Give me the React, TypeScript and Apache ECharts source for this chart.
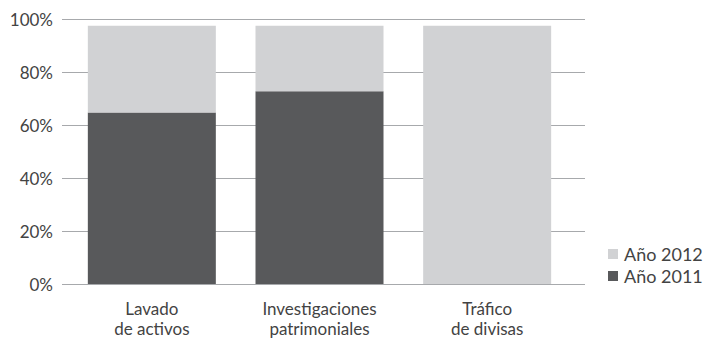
import React, { useEffect, useRef } from "react";
import * as echarts from "echarts";

// Categories and stacked shares (percent) per year
const categories = ["Lavado\nde activos", "Investigaciones\npatrimoniales", "Tráfico\nde divisas"];
const year2011 = [64.7, 72.7, 0];
const year2012 = [32.8, 24.8, 97.5];
const seriesNames = ["Año 2012", "Año 2011"];

const FONT = "Lato, 'Noto Sans', sans-serif";
const TEXT = "#434343";

export default function App() {
  const ref = useRef<HTMLDivElement>(null);

  useEffect(() => {
    document.body.style.margin = "0";
    if (!ref.current) return;
    const chart = echarts.init(ref.current, undefined, { renderer: "svg" });
    chart.setOption({
      animation: false,
      textStyle: { fontFamily: FONT },
      legend: {
        data: seriesNames,
        orient: "vertical",
        left: 603,
        top: 240,
        itemWidth: 10,
        itemHeight: 10,
        itemGap: 4,
        icon: "rect",
        textStyle: {
          fontFamily: FONT,
          fontSize: 18,
          lineHeight: 18,
          color: TEXT,
          padding: [0, 0, 0, 1],
        },
      },
      grid: [
        { left: 62, right: 120, top: 19, bottom: 55 },
        { left: 68, right: 134, top: 19, bottom: 55 },
      ],
      xAxis: [
        { type: "category", gridIndex: 0, show: false, data: [] },
        {
          type: "category",
          gridIndex: 1,
          data: categories,
          axisLine: { show: false },
          axisTick: { show: false },
          axisLabel: {
            margin: 14,
            fontFamily: FONT,
            fontSize: 17,
            color: TEXT,
            lineHeight: 20,
          },
        },
      ],
      yAxis: [
        {
          type: "value",
          gridIndex: 0,
          min: 0,
          max: 100,
          interval: 20,
          axisLine: { show: false },
          axisTick: { show: false },
          axisLabel: {
            formatter: "{value}%",
            margin: 9,
            fontFamily: FONT,
            fontSize: 17,
            color: TEXT,
          },
          splitLine: { lineStyle: { color: "#a7a9ac", width: 1 } },
        },
        { type: "value", gridIndex: 1, min: 0, max: 100, show: false },
      ],
      series: [
        {
          name: "Año 2011",
          type: "bar",
          stack: "total",
          xAxisIndex: 1,
          yAxisIndex: 1,
          barWidth: 128,
          itemStyle: { color: "#58595b" },
          data: year2011,
        },
        {
          name: "Año 2012",
          type: "bar",
          stack: "total",
          xAxisIndex: 1,
          yAxisIndex: 1,
          barWidth: 128,
          itemStyle: { color: "#d1d2d4" },
          data: year2012,
        },
      ],
    });
    return () => chart.dispose();
  }, []);

  return <div ref={ref} style={{ width: 705, height: 339 }} />;
}
